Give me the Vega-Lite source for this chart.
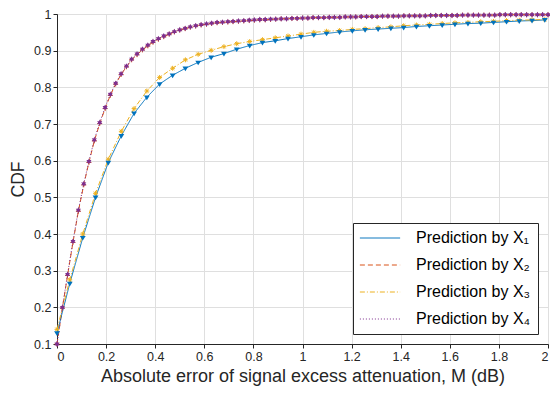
{
  "$schema": "https://vega.github.io/schema/vega-lite/v6.json",
  "width": 491,
  "height": 330,
  "autosize": "none",
  "padding": {"left": 57, "top": 14, "right": 2, "bottom": 50},
  "background": "white",
  "config": {
    "view": {"stroke": "#262626", "strokeWidth": 1},
    "font": "Liberation Sans",
    "axis": {
      "labelFont": "Liberation Sans",
      "labelFontSize": 12.5,
      "labelColor": "#262626",
      "titleFont": "Liberation Sans",
      "titleFontSize": 17.6,
      "titleFontWeight": "normal",
      "titleColor": "#262626",
      "domainColor": "#262626",
      "tickColor": "#262626",
      "gridColor": "#dfdfdf",
      "gridWidth": 1
    },
    "legend": {
      "labelFont": "Liberation Sans",
      "labelFontSize": 16,
      "labelColor": "#000000",
      "labelLimit": 300
    }
  },
  "data": {
    "values": [
      {"e":0,"B":0.100,"D":0.100},
      {"e":0.022,"B":0.198,"D":0.200},
      {"e":0.043,"B":0.287,"D":0.290},
      {"e":0.065,"B":0.377,"D":0.380},
      {"e":0.087,"B":0.462,"D":0.465},
      {"e":0.109,"B":0.534,"D":0.537},
      {"e":0.130,"B":0.595,"D":0.598},
      {"e":0.152,"B":0.654,"D":0.657},
      {"e":0.174,"B":0.701,"D":0.704},
      {"e":0.196,"B":0.742,"D":0.745},
      {"e":0.217,"B":0.778,"D":0.781},
      {"e":0.239,"B":0.809,"D":0.811},
      {"e":0.261,"B":0.835,"D":0.837},
      {"e":0.283,"B":0.856,"D":0.858},
      {"e":0.304,"B":0.875,"D":0.877},
      {"e":0.326,"B":0.889,"D":0.891},
      {"e":0.348,"B":0.902,"D":0.904},
      {"e":0.370,"B":0.913,"D":0.915},
      {"e":0.391,"B":0.923,"D":0.925},
      {"e":0.413,"B":0.931,"D":0.933},
      {"e":0.435,"B":0.938,"D":0.940},
      {"e":0.457,"B":0.945,"D":0.946},
      {"e":0.478,"B":0.951,"D":0.952},
      {"e":0.500,"B":0.956,"D":0.957},
      {"e":0.522,"B":0.960,"D":0.961},
      {"e":0.543,"B":0.964,"D":0.965},
      {"e":0.565,"B":0.967,"D":0.968},
      {"e":0.587,"B":0.970,"D":0.971},
      {"e":0.609,"B":0.972,"D":0.973},
      {"e":0.630,"B":0.974,"D":0.975},
      {"e":0.652,"B":0.976,"D":0.977},
      {"e":0.674,"B":0.977,"D":0.978},
      {"e":0.696,"B":0.978,"D":0.979},
      {"e":0.717,"B":0.979,"D":0.980},
      {"e":0.739,"B":0.980,"D":0.981},
      {"e":0.761,"B":0.981,"D":0.982},
      {"e":0.783,"B":0.982,"D":0.983},
      {"e":0.804,"B":0.983,"D":0.984},
      {"e":0.826,"B":0.984,"D":0.985},
      {"e":0.848,"B":0.984,"D":0.985},
      {"e":0.870,"B":0.985,"D":0.986},
      {"e":0.891,"B":0.986,"D":0.986},
      {"e":0.913,"B":0.987,"D":0.987},
      {"e":0.935,"B":0.987,"D":0.987},
      {"e":0.957,"B":0.988,"D":0.988},
      {"e":0.978,"B":0.988,"D":0.988},
      {"e":1.000,"B":0.989,"D":0.989},
      {"e":1.022,"B":0.989,"D":0.989},
      {"e":1.043,"B":0.990,"D":0.990},
      {"e":1.065,"B":0.990,"D":0.990},
      {"e":1.087,"B":0.990,"D":0.990},
      {"e":1.109,"B":0.991,"D":0.991},
      {"e":1.130,"B":0.991,"D":0.991},
      {"e":1.152,"B":0.991,"D":0.991},
      {"e":1.174,"B":0.992,"D":0.992},
      {"e":1.196,"B":0.992,"D":0.992},
      {"e":1.217,"B":0.992,"D":0.992},
      {"e":1.239,"B":0.993,"D":0.993},
      {"e":1.261,"B":0.993,"D":0.993},
      {"e":1.283,"B":0.993,"D":0.993},
      {"e":1.304,"B":0.993,"D":0.993},
      {"e":1.326,"B":0.994,"D":0.994},
      {"e":1.348,"B":0.994,"D":0.994},
      {"e":1.370,"B":0.994,"D":0.994},
      {"e":1.391,"B":0.994,"D":0.994},
      {"e":1.413,"B":0.995,"D":0.995},
      {"e":1.435,"B":0.995,"D":0.995},
      {"e":1.457,"B":0.995,"D":0.995},
      {"e":1.478,"B":0.995,"D":0.995},
      {"e":1.500,"B":0.995,"D":0.995},
      {"e":1.522,"B":0.996,"D":0.996},
      {"e":1.543,"B":0.996,"D":0.996},
      {"e":1.565,"B":0.996,"D":0.996},
      {"e":1.587,"B":0.996,"D":0.996},
      {"e":1.609,"B":0.996,"D":0.996},
      {"e":1.630,"B":0.996,"D":0.996},
      {"e":1.652,"B":0.997,"D":0.997},
      {"e":1.674,"B":0.997,"D":0.997},
      {"e":1.696,"B":0.997,"D":0.997},
      {"e":1.717,"B":0.997,"D":0.997},
      {"e":1.739,"B":0.997,"D":0.997},
      {"e":1.761,"B":0.997,"D":0.997},
      {"e":1.783,"B":0.997,"D":0.997},
      {"e":1.804,"B":0.998,"D":0.998},
      {"e":1.826,"B":0.998,"D":0.998},
      {"e":1.848,"B":0.998,"D":0.998},
      {"e":1.870,"B":0.998,"D":0.998},
      {"e":1.891,"B":0.998,"D":0.998},
      {"e":1.913,"B":0.998,"D":0.998},
      {"e":1.935,"B":0.998,"D":0.998},
      {"e":1.957,"B":0.998,"D":0.998},
      {"e":1.978,"B":0.998,"D":0.998},
      {"e":2.000,"B":0.998,"D":0.998},
      {"e":0,"A":0.130,"C":0.140},
      {"e":0.052,"A":0.265,"C":0.275},
      {"e":0.105,"A":0.390,"C":0.400},
      {"e":0.157,"A":0.500,"C":0.511},
      {"e":0.209,"A":0.595,"C":0.604},
      {"e":0.262,"A":0.668,"C":0.680},
      {"e":0.314,"A":0.729,"C":0.742},
      {"e":0.366,"A":0.773,"C":0.790},
      {"e":0.418,"A":0.809,"C":0.827},
      {"e":0.471,"A":0.833,"C":0.852},
      {"e":0.523,"A":0.852,"C":0.875},
      {"e":0.575,"A":0.868,"C":0.890},
      {"e":0.628,"A":0.882,"C":0.901},
      {"e":0.680,"A":0.892,"C":0.911},
      {"e":0.732,"A":0.904,"C":0.919},
      {"e":0.785,"A":0.914,"C":0.925},
      {"e":0.837,"A":0.922,"C":0.930},
      {"e":0.889,"A":0.927,"C":0.935},
      {"e":0.941,"A":0.933,"C":0.940},
      {"e":0.994,"A":0.938,"C":0.945},
      {"e":1.046,"A":0.943,"C":0.950},
      {"e":1.098,"A":0.947,"C":0.953},
      {"e":1.151,"A":0.951,"C":0.955},
      {"e":1.203,"A":0.954,"C":0.958},
      {"e":1.255,"A":0.957,"C":0.960},
      {"e":1.308,"A":0.959,"C":0.963},
      {"e":1.360,"A":0.961,"C":0.965},
      {"e":1.412,"A":0.963,"C":0.968},
      {"e":1.464,"A":0.966,"C":0.970},
      {"e":1.517,"A":0.968,"C":0.972},
      {"e":1.569,"A":0.970,"C":0.974},
      {"e":1.621,"A":0.972,"C":0.976},
      {"e":1.674,"A":0.974,"C":0.977},
      {"e":1.726,"A":0.975,"C":0.979},
      {"e":1.778,"A":0.977,"C":0.980},
      {"e":1.831,"A":0.979,"C":0.982},
      {"e":1.883,"A":0.981,"C":0.983},
      {"e":1.935,"A":0.982,"C":0.984},
      {"e":1.987,"A":0.984,"C":0.985}
    ]
  },
  "transform": [
    {"fold": ["A", "B", "C", "D"], "as": ["s", "v"]},
    {"filter": "isValid(datum.v)"}
  ],
  "encoding": {
    "x": {
      "field": "e", "type": "quantitative",
      "scale": {"domain": [0, 2], "nice": false, "zero": false},
      "axis": {
        "values": [0, 0.2, 0.4, 0.6, 0.8, 1, 1.2, 1.4, 1.6, 1.8, 2],
        "format": "~g", "grid": true, "tickSize": 4, "labelPadding": 2,
        "title": "Absolute error of signal excess attenuation, M (dB)", "titlePadding": 5, "titleFontSize": 18
      }
    },
    "y": {
      "field": "v", "type": "quantitative",
      "scale": {"domain": [0.1, 1], "nice": false, "zero": false},
      "axis": {
        "values": [0.1, 0.2, 0.3, 0.4, 0.5, 0.6, 0.7, 0.8, 0.9, 1],
        "format": "~g", "grid": true, "tickSize": 4, "labelPadding": 2,
        "title": "CDF", "titlePadding": 6
      }
    },
    "color": {
      "field": "s", "type": "nominal",
      "scale": {"domain": ["A", "B", "C", "D"], "range": ["#0072BD", "#D95319", "#EDB120", "#7E2F8E"]},
      "legend": {
        "title": null,
        "orient": "bottom-right",
        "offset": 10,
        "fillColor": "white",
        "strokeColor": "#262626",
        "padding": 7,
        "rowPadding": 11,
        "symbolType": "M-3,0H3",
        "symbolSize": 180,
        "symbolStrokeWidth": 1,
        "symbolOffset": 12,
        "labelOffset": 28,
        "labelExpr": "'Prediction by X' + (datum.label == 'A' ? '₁' : datum.label == 'B' ? '₂' : datum.label == 'C' ? '₃' : '₄')"
      }
    }
  },
  "layer": [
    {
      "mark": {"type": "line", "strokeWidth": 1},
      "encoding": {
        "strokeDash": {
          "field": "s", "type": "nominal",
          "scale": {"domain": ["A", "B", "C", "D"], "range": [[1, 0], [5, 3], [5, 2, 1, 2], [1, 2]]},
          "legend": {
            "title": null,
            "orient": "bottom-right",
            "offset": 10,
            "fillColor": "white",
            "strokeColor": "#262626",
            "padding": 7,
            "rowPadding": 11,
            "symbolType": "M-3,0H3",
            "symbolSize": 180,
            "symbolStrokeWidth": 1,
            "symbolOffset": 12,
            "labelOffset": 28,
            "labelExpr": "'Prediction by X' + (datum.label == 'A' ? '₁' : datum.label == 'B' ? '₂' : datum.label == 'C' ? '₃' : '₄')"
          }
        }
      }
    },
    {
      "transform": [{"filter": "datum.s == 'B' || datum.s == 'C'"}],
      "mark": {"type": "point", "filled": false, "strokeWidth": 1, "opacity": 1, "size": 24},
      "encoding": {
        "shape": {
          "condition": {"test": "datum.s == 'B'", "value": "M-1,0H1M0,-1V1"},
          "value": "M-1,0H1M0,-1V1M-0.7,-0.7L0.7,0.7M-0.7,0.7L0.7,-0.7"
        }
      }
    },
    {
      "transform": [{"filter": "datum.s == 'A' || datum.s == 'D'"}],
      "mark": {"type": "point", "filled": true, "opacity": 1, "size": 34},
      "encoding": {
        "shape": {
          "condition": {"test": "datum.s == 'A'", "value": "M-1,-0.6H1L0,1Z"},
          "value": "M0,-1L0.275,-0.476L0.866,-0.5L0.55,0L0.866,0.5L0.275,0.476L0,1L-0.275,0.476L-0.866,0.5L-0.55,0L-0.866,-0.5L-0.275,-0.476Z"
        }
      }
    }
  ]
}
